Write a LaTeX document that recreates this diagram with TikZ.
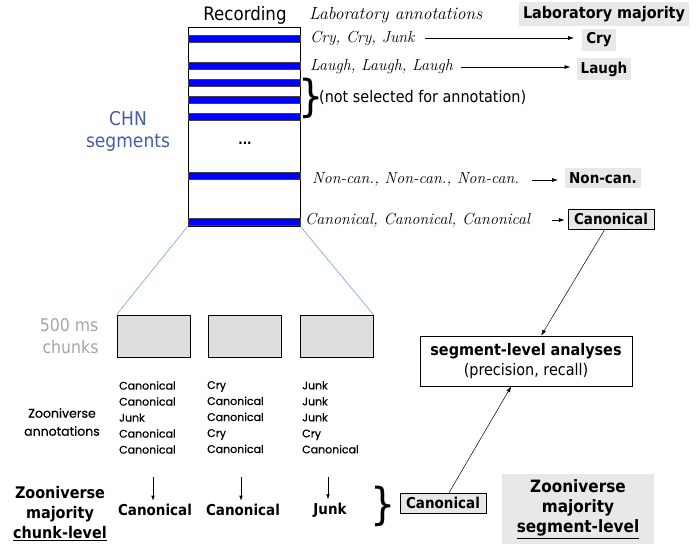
\documentclass[tikz,border=0pt]{standalone}
\usepackage{fontspec}
\usetikzlibrary{arrows.meta,positioning}
\newfontfamily\tahoma{DejaVu Sans Condensed}
\newfontfamily\geo[FakeBold=0.6]{Poppins}
\definecolor{chnblue}{RGB}{70,92,170}
\definecolor{zoomblue}{RGB}{120,160,220}
\definecolor{boxgray}{RGB}{232,232,232}
\definecolor{chunkgray}{RGB}{222,222,222}
\tikzset{
  sans/.style={font=\tahoma\fontsize{16}{19}\selectfont},
  sansbold/.style={font=\tahoma\bfseries\fontsize{15}{18}\selectfont},
  labtext/.style={font=\itshape\fontsize{16}{18}\selectfont, anchor=west, inner sep=0pt},
  majbox/.style={sansbold, fill=boxgray, inner sep=4pt},
  outbox/.style={majbox, draw, line width=0.6pt, inner xsep=6pt},
  bar/.style={draw=black!75, fill=blue, line width=0.7pt},
  chunk/.style={draw, fill=chunkgray, line width=0.8pt, minimum width=73pt, minimum height=42pt},
  annot/.style={font=\geo\fontsize{11}{16}\selectfont, align=left, anchor=north west, inner sep=0pt},
  labarrow/.style={-{Latex[length=6pt,width=4pt]}, line width=0.6pt},
  bigbrace/.style={font=\tahoma\fontsize{44}{44}\selectfont, inner sep=0pt}
}
\begin{document}
\begin{tikzpicture}[x=1pt,y=-1pt]
  \useasboundingbox (0,0) rectangle (700,550);
  % recording and its segments
  \node[sans, font=\tahoma\fontsize{18.5}{20}\selectfont] (rec) at (245,15) {Recording};
  \node[draw, line width=0.8pt, minimum width=112pt, minimum height=199pt, inner sep=0pt] (recbox) at (244,126.5) {};
  \foreach \y in {38.5,66,83,100,117,176,222}
    \draw[bar] (188,{\y-3.5}) rectangle (300,{\y+3.5});
  \node[font=\tahoma\bfseries\fontsize{13}{13}\selectfont] (dots) at (245,143) {...};
  \node[sans, font=\tahoma\fontsize{19}{22}\selectfont, text=chnblue, align=center] (chn) at (128,131) {CHN\\segments};
  % laboratory side
  \node[labtext, font=\itshape\fontsize{17.5}{19}\selectfont] (labann) at (309,15) {Laboratory annotations};
  \node[majbox, font=\tahoma\bfseries\fontsize{16}{19}\selectfont] (labmaj) at (604,14) {Laboratory majority};
  \node[labtext] (lab1) at (310,38) {Cry, Cry, Junk};
  \node[labtext] (lab2) at (310,67) {Laugh, Laugh, Laugh};
  \node[labtext] (lab3) at (312,180) {Non-can., Non-can., Non-can.};
  \node[labtext] (lab4) at (305,220) {Canonical, Canonical, Canonical};
  \node[majbox] (maj1) at (599,40) {Cry};
  \node[majbox] (maj2) at (604,69) {Laugh};
  \node[majbox] (maj3) at (603,178) {Non-can.};
  \node[outbox] (maj4) at (611,219) {Canonical};
  \draw[labarrow, shorten <=10pt, shorten >=8pt] (lab1.east) -- (lab1.east -| maj1.west);
  \draw[labarrow, shorten <=8pt, shorten >=6pt] (lab2.east) -- (lab2.east -| maj2.west);
  \draw[labarrow, shorten <=13pt, shorten >=7pt] (lab3.east) -- (lab3.east -| maj3.west);
  \draw[labarrow, shorten <=22pt, shorten >=3pt] (lab4.east) -- (lab4.east -| maj4.west);
  \node[bigbrace] (brace1) at (311,98) {\}};
  \node[sans, anchor=west, inner sep=0pt] (notsel) at (319,97) {(not selected for annotation)};
  % chunks
  \node[chunk] (ch1) at (153.5,336) {};
  \node[chunk] (ch2) at (244.5,336) {};
  \node[chunk] (ch3) at (336.5,336) {};
  \draw[zoomblue, line width=0.6pt] (recbox.south west) -- (ch1.north west);
  \draw[zoomblue, line width=0.6pt] (recbox.south east) -- (ch3.north east);
  \node[sans, font=\tahoma\fontsize{17.5}{22}\selectfont, text=gray!70, align=right, anchor=east] (ms) at (102,336) {500 ms\\chunks};
  % zooniverse annotations
  \node[font=\geo\fontsize{12.5}{18}\selectfont, align=center] (zann) at (62,422) {Zooniverse\\annotations};
  \node[annot] (col1) at (119,381) {Canonical\\Canonical\\Junk\\Canonical\\Canonical};
  \node[annot] (col2) at (207,381) {Cry\\Canonical\\Canonical\\Cry\\Canonical};
  \node[annot] (col3) at (302,381) {Junk\\Junk\\Junk\\Cry\\Canonical};
  % chunk-level majority
  \node[sansbold, font=\tahoma\bfseries\fontsize{16}{19}\selectfont, align=center] (zchunk) at (60,514) {Zooniverse\\[1pt]majority\\[1pt]\underline{chunk-level}};
  \node[sansbold] (c1) at (155,510) {Canonical};
  \node[sansbold] (c2) at (243,510) {Canonical};
  \node[sansbold] (c3) at (330,510) {Junk};
  \coordinate (a1) at (153,477);
  \coordinate (a2) at (241,477);
  \coordinate (a3) at (328,477);
  \draw[-{Latex[length=5pt,width=3.5pt]}, line width=0.5pt] (a1) -- (a1 |- c1.north);
  \draw[-{Latex[length=5pt,width=3.5pt]}, line width=0.5pt] (a2) -- (a2 |- c2.north);
  \draw[-{Latex[length=5pt,width=3.5pt]}, line width=0.5pt] (a3) -- (a3 |- c3.north);
  \node[bigbrace] (brace2) at (383,506) {\}};
  % segment level
  \node[outbox] (segcan) at (443,503) {Canonical};
  \node[majbox, font=\tahoma\bfseries\fontsize{17}{20}\selectfont, align=center, minimum width=152pt, minimum height=70pt] (zseg) at (578,509) {Zooniverse\\majority\\\underline{segment-level}};
  \node[draw, line width=0.6pt, align=center, minimum width=212pt, minimum height=50pt, font=\tahoma\fontsize{16}{20}\selectfont] (seg) at (526,361) {\bfseries segment-level analyses\\(precision, recall)};
  \draw[labarrow, line width=0.5pt] (maj4) -- (seg);
  \draw[labarrow, line width=0.5pt] (segcan) -- (seg);
\end{tikzpicture}
\end{document}
